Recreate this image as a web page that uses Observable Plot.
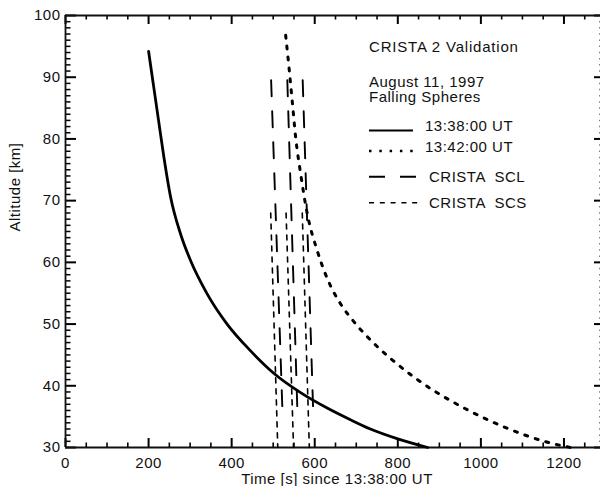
<!DOCTYPE html>
<html><head><meta charset="utf-8">
<script src="https://cdn.jsdelivr.net/npm/d3@7"></script>
<script src="https://cdn.jsdelivr.net/npm/@observablehq/plot@0.6"></script>
<style>
html,body{margin:0;padding:0;background:#fff;}
#chart{width:600px;height:486px;overflow:hidden;}
#chart svg{display:block;max-width:none;}
#chart svg text{letter-spacing:0.5px;}
</style></head><body><div id="chart"></div>
<script>
// Falling sphere trajectory launched 13:38:00 UT (time [s], altitude [km])
const time1338 = [200, 212, 224, 237, 253, 277, 301, 341, 389, 445, 502, 566, 630, 686, 734, 800, 872];
const alt1338  = [94.2, 88.6, 83.0, 77.0, 70.6, 64.6, 60.3, 54.9, 50.0, 45.7, 42.0, 38.9, 36.4, 34.5, 33.0, 31.4, 30.0];
// Falling sphere trajectory launched 13:42:00 UT
const time1342 = [530, 538, 546, 554, 566, 582, 606, 630, 662, 694, 742, 790, 839, 887, 935, 968, 1016, 1064, 1115, 1163, 1216];
const alt1342  = [96.8, 91.6, 86.0, 80.3, 74.4, 67.9, 61.9, 57.4, 53.3, 50.4, 46.9, 44.0, 41.4, 39.2, 37.3, 36.1, 34.5, 33.1, 31.8, 30.8, 30.0];
// CRISTA SCL tracks: time at top / bottom altitude
const sclTimeTop    = [495, 534, 571];
const sclTimeBottom = [522, 558, 596];
const sclAlt        = [89.5, 36.5];
// CRISTA SCS tracks
const scsTimeTop    = [494, 531, 570];
const scsTimeBottom = [511, 549, 587];
const scsAlt        = [68, 30];
// Axes
const xMajor = [0, 200, 400, 600, 800, 1000, 1200];
const xMinor = [50,100,150,250,300,350,450,500,550,650,700,750,850,900,950,1050,1100,1150,1250];
const yMajor = [30, 40, 50, 60, 70, 80, 90, 100];
const yMinor = d3.range(31, 100, 1).filter(v => v % 10 !== 0);
const legendTitle = ["CRISTA 2 Validation", "August 11, 1997", "Falling Spheres"];
const legendLabels = ["13:38:00 UT", "13:42:00 UT", "CRISTA  SCL", "CRISTA  SCS"];

const solid = time1338.map((t, i) => ({t, alt: alt1338[i]}));
const dotted = time1342.map((t, i) => ({t, alt: alt1342[i]}));
const scl = sclTimeTop.flatMap((t, i) => [{track: i, t, alt: sclAlt[0]}, {track: i, t: sclTimeBottom[i], alt: sclAlt[1]}]);
const scs = scsTimeTop.flatMap((t, i) => [{track: i, t, alt: scsAlt[0]}, {track: i, t: scsTimeBottom[i], alt: scsAlt[1]}]);

const fontFamily = "'Liberation Sans', Arial, Helvetica, sans-serif";
const ink = "#111";
const W = 600, H = 486, mL = 65, mR = -5, mT = 15, mB = 39;
const xDom = [0, 1300], yDom = [30, 100];
const frameW = W - mL - mR, frameH = H - mT - mB;
// tick lengths converted from pixels into data units (inward ticks, IDL style)
const kmPerPx = (yDom[1] - yDom[0]) / frameH, sPerPx = (xDom[1] - xDom[0]) / frameW;
const xMajLen = 9 * kmPerPx, xMinLen = 4.5 * kmPerPx, yMajLen = 11 * sPerPx, yMinLen = 5.5 * sPerPx;

const plot = Plot.plot({
  width: W, height: H,
  marginLeft: mL, marginRight: mR, marginTop: mT, marginBottom: mB,
  x: {domain: xDom, axis: null},
  y: {domain: yDom, axis: null},
  style: {fontFamily, fontSize: "15px", background: "#fff"},
  marks: [
    // bottom / top ticks
    Plot.ruleX(xMajor, {x: d => d, y1: yDom[0], y2: yDom[0] + xMajLen, stroke: "#000", strokeWidth: 2}),
    Plot.ruleX(xMinor, {x: d => d, y1: yDom[0], y2: yDom[0] + xMinLen, stroke: "#000", strokeWidth: 1.6}),
    Plot.ruleX(xMajor, {x: d => d, y1: yDom[1], y2: yDom[1] - xMajLen, stroke: "#000", strokeWidth: 2}),
    Plot.ruleX(xMinor, {x: d => d, y1: yDom[1], y2: yDom[1] - xMinLen, stroke: "#000", strokeWidth: 1.6}),
    // left / right ticks
    Plot.ruleY(yMajor, {y: d => d, x1: xDom[0], x2: xDom[0] + yMajLen, stroke: "#000", strokeWidth: 2}),
    Plot.ruleY(yMinor, {y: d => d, x1: xDom[0], x2: xDom[0] + yMinLen, stroke: "#000", strokeWidth: 1.5}),
    Plot.ruleY(yMajor, {y: d => d, x1: xDom[1], x2: xDom[1] - yMajLen, stroke: "#000", strokeWidth: 2}),
    Plot.ruleY(yMinor, {y: d => d, x1: xDom[1], x2: xDom[1] - yMinLen, stroke: "#000", strokeWidth: 1.5}),
    // frame lines
    Plot.ruleY(yDom, {stroke: ink, strokeWidth: 1.8}),
    Plot.ruleX(xDom, {stroke: ink, strokeWidth: 1.8}),
    // tick labels
    Plot.axisX({anchor: "bottom", ticks: xMajor, tickSize: 0, tickPadding: 10.3, tickFormat: d => String(d), label: null, fill: ink}),
    Plot.axisY({anchor: "left", ticks: yMajor, tickSize: 0, tickPadding: 5, tickFormat: d => String(d), label: null, fill: ink}),
    // data
    Plot.line(scs, {x: "t", y: "alt", z: "track", stroke: "#000", strokeWidth: 1.6, strokeDasharray: "5,6"}),
    Plot.line(scl, {x: "t", y: "alt", z: "track", stroke: "#000", strokeWidth: 1.9, strokeDasharray: "16,15"}),
    Plot.line(solid, {x: "t", y: "alt", curve: "monotone-x", stroke: "#000", strokeWidth: 2.8}),
    Plot.line(dotted, {x: "t", y: "alt", curve: "monotone-x", stroke: "#000", strokeWidth: 3, strokeDasharray: "3,8"}),
    // axis titles
    Plot.text(["Altitude [km]"], {text: d => d, frameAnchor: "left", rotate: -90, dx: -50, fill: ink}),
    Plot.text(["Time [s] since 13:38:00 UT"], {text: d => d, frameAnchor: "bottom", lineAnchor: "bottom", dy: 36.5, dx: 1.5, fill: ink})
  ]
});
document.getElementById("chart").appendChild(plot);

// Legend (IDL-style annotation block, top right)
const svg = d3.select(plot);
const g = svg.append("g").attr("font-family", fontFamily).attr("font-size", 15).attr("fill", ink)
  .attr("text-anchor", "start").style("white-space", "pre");
const titleY = [51.5, 86.5, 101.5];
legendTitle.forEach((s, i) => g.append("text").attr("x", 369).attr("y", titleY[i])
  .style("letter-spacing", i === 0 ? "0.8px" : "0.5px").text(s));
const rowY = [131, 151.7, 181.7, 208.3];
const lineY = [130.5, 151, 176.7, 202.7];
const labelX = [425, 425, 429, 429];
const lineEnd = [413, 413, 418, 418];
const dashes = [null, "2.5,7.8", "16,15", "5,5.8"];
const widths = [1.8, 2.5, 1.9, 1.6];
legendLabels.forEach((s, i) => {
  g.append("line").attr("x1", 369).attr("x2", lineEnd[i]).attr("y1", lineY[i]).attr("y2", lineY[i])
    .attr("stroke", "#000").attr("stroke-width", widths[i]).attr("stroke-dasharray", dashes[i]);
  g.append("text").attr("x", labelX[i]).attr("y", rowY[i]).attr("xml:space", "preserve").text(s);
});
</script></body></html>
